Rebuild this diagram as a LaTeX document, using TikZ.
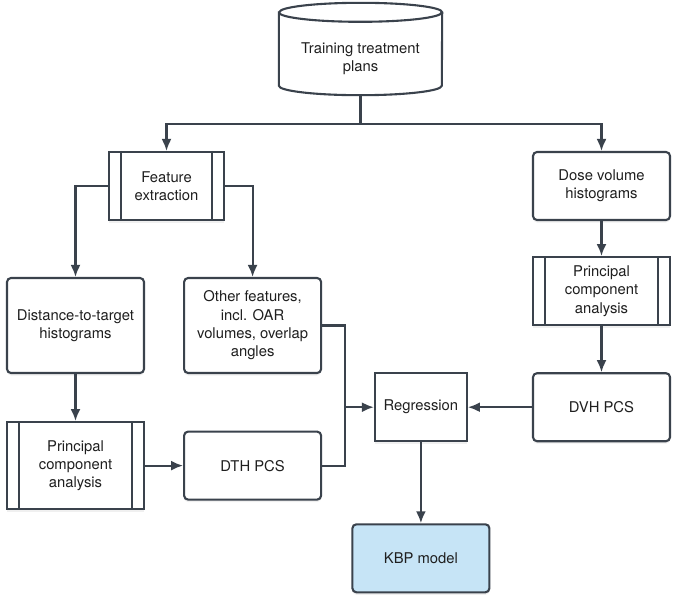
\documentclass[tikz,border=0pt]{standalone}
\usepackage{fontspec}
\setmainfont{TeX Gyre Heros}
\usetikzlibrary{positioning,arrows.meta,shadows}
\definecolor{edgegray}{HTML}{3A424C}
\definecolor{kbpblue}{HTML}{C6E4F6}

\begin{document}
\begin{tikzpicture}[x=1pt, y=1pt,
    % styles
    roundbox/.style={rectangle, rounded corners=4pt, draw=edgegray, fill=white, line width=2.1pt,
        minimum width=137pt, minimum height=68pt, align=center, inner sep=2pt, text=black!88,
        drop shadow={shadow xshift=0pt, shadow yshift=-2.5pt, opacity=.12}},
    sharpbox/.style={roundbox, sharp corners},
    procbox/.style={sharpbox},
    dbnode/.style={rectangle, minimum width=163pt, minimum height=73pt, align=center, inner sep=0pt, text=black!88},
    link/.style={draw=edgegray, line width=2.1pt},
    arrowlink/.style={link, -{Latex[length=12pt,width=10pt]}},
    font=\fontsize{14.8}{18.3}\selectfont
    ]
    \useasboundingbox (0,0) rectangle (676,-597);

    %Nodes
    \node[dbnode]   (plans)  at (360.5,-58.5)          {Training treatment\\plans};
    \node[procbox]  (feat)   at (166.5,-186) [minimum width=115pt] {Feature\\extraction};
    \node[roundbox] (dvh)    at (601.5,-186)           {Dose volume\\histograms};
    \node[procbox]  (pcar)   [below=35pt of dvh]       {Principal\\component\\analysis};
    \node[roundbox] (dvhpcs) [below=46pt of pcar]      {DVH PCS};
    \node[sharpbox] (reg)    [left=64pt of dvhpcs, minimum width=92pt] {Regression};
    \node[roundbox, fill=kbpblue] (kbp) [below=81pt of reg] {KBP model};
    \node[roundbox] (dist)   at (75.5,-325.5) [minimum height=95pt] {Distance-to-target\\histograms};
    \node[roundbox] (other)  [right=38pt of dist, minimum height=95pt] {Other features,\\incl. OAR\\volumes, overlap\\angles};
    \node[procbox]  (pcal)   [below=47pt of dist, minimum height=87pt] {Principal\\component\\analysis};
    \node[roundbox] (dthpcs) [right=38pt of pcal]      {DTH PCS};

    %Cylinder
    \draw[link] ([yshift=9.5pt]plans.north west) -- ([yshift=9.5pt]plans.south west)
        arc[start angle=180, end angle=360, x radius=81.5pt, y radius=9.5pt]
        -- ([yshift=9.5pt]plans.north east)
        arc[start angle=0, end angle=180, x radius=81.5pt, y radius=9.5pt] -- cycle;
    \draw[link] ([yshift=9.5pt]plans.north west)
        arc[start angle=180, end angle=360, x radius=81.5pt, y radius=9.5pt];

    %Side bars
    \foreach \n in {feat,pcar,pcal}
        \draw[link] ([xshift=13pt]\n.north west) -- ([xshift=13pt]\n.south west)
                    ([xshift=-13pt]\n.north east) -- ([xshift=-13pt]\n.south east);

    %Lines
    \coordinate[below=29pt of plans.south] (split);
    \coordinate[left=29pt of reg.west] (join);
    \draw[link] (plans.south) -- (split);
    \draw[arrowlink] (split) -| (feat.north);
    \draw[arrowlink] (split) -| (dvh.north);
    \draw[arrowlink] (feat.west) -| (dist.north);
    \draw[arrowlink] (feat.east) -| (other.north);
    \draw[arrowlink] (dist.south) -- (pcal.north);
    \draw[arrowlink] (pcal.east) -- (dthpcs.west);
    \draw[link] (other.east) -| (join);
    \draw[link] (dthpcs.east) -| (join);
    \draw[arrowlink] (join) -- (reg.west);
    \draw[arrowlink] (dvh.south) -- (pcar.north);
    \draw[arrowlink] (pcar.south) -- (dvhpcs.north);
    \draw[arrowlink] (dvhpcs.west) -- (reg.east);
    \draw[arrowlink] (reg.south) -- (kbp.north);
\end{tikzpicture}
\end{document}
